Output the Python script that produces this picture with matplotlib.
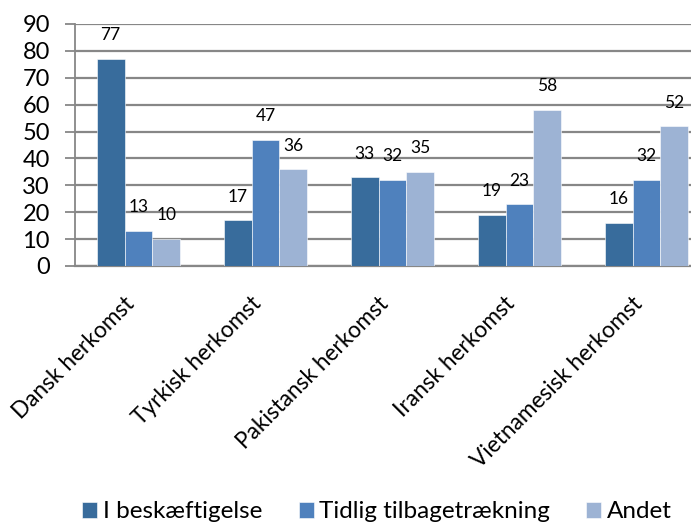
import numpy as np
import matplotlib
matplotlib.use("Agg")
import matplotlib.pyplot as plt
from matplotlib.transforms import ScaledTranslation

plt.rcParams["font.family"] = ["Lato", "DejaVu Sans"]

categories = ["Dansk herkomst", "Tyrkisk herkomst", "Pakistansk herkomst",
              "Iransk herkomst", "Vietnamesisk herkomst"]
series_names = ["I beskæftigelse", "Tidlig tilbagetrækning", "Andet"]
beskaeftigelse = [77, 17, 33, 19, 16]
tilbagetraekning = [13, 47, 32, 23, 32]
andet = [10, 36, 35, 58, 52]
yticks = [0, 10, 20, 30, 40, 50, 60, 70, 80, 90]

colors = ["#386C9C", "#4F81BD", "#9DB3D4"]
grid_col = "#878787"

W, H = 691, 527
fig = plt.figure(figsize=(W / 100, H / 100), dpi=100)
ax = fig.add_axes([75 / W, 1 - 266 / H, 635 / W, 242 / H])

x = np.arange(len(categories))
bw = 0.22
for i, (vals, name) in enumerate(zip([beskaeftigelse, tilbagetraekning, andet], series_names)):
    pos = x + (i - 1) * bw
    ax.bar(pos, vals, width=bw, color=colors[i], label=name, zorder=3,
           edgecolor="white", linewidth=0.4)
    for px, v in zip(pos, vals):
        ax.annotate(str(v), (px, v), xytext=(0, 17), textcoords="offset points",
                    ha="center", va="center", fontsize=12.5)

ax.set_xlim(-0.5, len(categories) - 0.5)
ax.set_ylim(0, 90)
ax.set_yticks(yticks)
ax.yaxis.grid(True, color=grid_col, linewidth=1.6, zorder=0)
ax.set_axisbelow(True)

for s in ["top", "right"]:
    ax.spines[s].set_visible(False)
ax.spines["left"].set_color(grid_col)
ax.spines["left"].set_linewidth(1.3)
ax.spines["bottom"].set_color(grid_col)
ax.spines["bottom"].set_linewidth(1.6)

ax.tick_params(axis="y", length=7, width=1.3, color=grid_col, pad=11, labelsize=17)
ax.tick_params(axis="x", length=0)
ax.set_xticks(x)
ax.set_xticklabels(categories, rotation=45, ha="right", va="top",
                   rotation_mode="anchor", fontsize=16.3)
offset = ScaledTranslation(-15 / 100, -22 / 100, fig.dpi_scale_trans)
for lab in ax.get_xticklabels():
    lab.set_transform(lab.get_transform() + offset)

handles, labels = ax.get_legend_handles_labels()
fig.legend(handles, labels, loc="center", bbox_to_anchor=(377 / W, 1 - 512 / H),
           ncol=3, frameon=False, fontsize=17.5, handlelength=0.62, handleheight=0.62,
           handletextpad=0.22, columnspacing=1.5, borderaxespad=0)

fig.savefig("out.png", dpi=100)
